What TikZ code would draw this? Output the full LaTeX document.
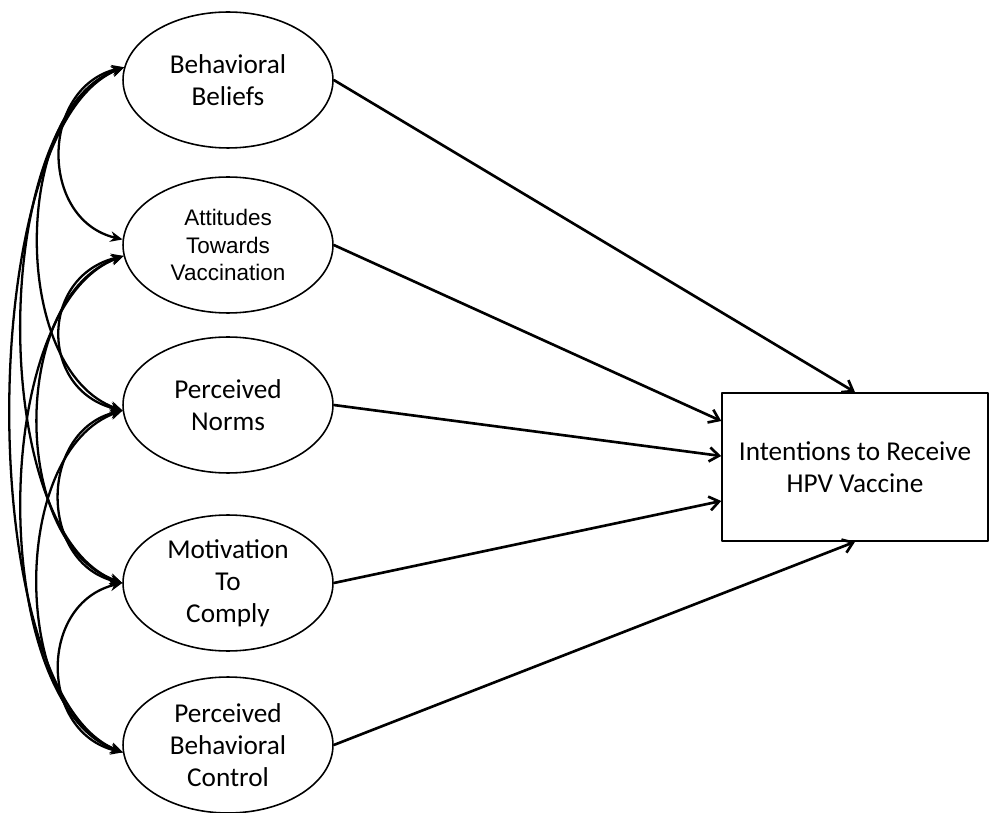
\documentclass[tikz,border=0pt]{standalone}
\usepackage{fontspec}
\setmainfont{Carlito}
\newfontfamily\arialfont{Liberation Sans}
\usetikzlibrary{arrows.meta,shapes,calc}
\newcommand \mycov[4]
{
\draw[cov] (#1) .. controls +(-#3,#4) and +(-#3,-#4) .. (#2);
}

\begin{document}
\begin{tikzpicture}[x=0.02cm, y=-0.02cm, line join=round,
  latent/.style={ellipse, draw, line width=0.9pt, minimum width=4.2cm, minimum height=2.72cm, inner sep=0pt, align=center, font=\fontsize{15.5}{18.2}\selectfont},
  outcome/.style={rectangle, draw, line width=0.9pt, minimum width=5.32cm, minimum height=2.96cm, inner sep=0pt, align=center, font=\fontsize{15.5}{18.2}\selectfont},
  effect/.style={-{Straight Barb[length=5.5pt,width=8pt]}, line width=1.5pt},
  cov/.style={{Stealth[length=7pt,width=6pt]}-{Stealth[length=7pt,width=6pt]}, line width=1.3pt}]
\useasboundingbox (0,0) rectangle (989,813);
% predictors
\node[latent] (bb)  at (228,80)  {Behavioral\\Beliefs};
\node[latent, font=\arialfont\fontsize{12.8}{15.5}\selectfont] (att) at (228,245) {Attitudes\\Towards\\Vaccination};
\node[latent] (pn)  at (228,405) {Perceived\\Norms};
\node[latent] (mtc) at (228,583) {Motivation\\To\\Comply};
\node[latent] (pbc) at (228,745) {Perceived\\Behavioral\\Control};
% outcome
\node[outcome] (iv) at (855,467) {Intentions to Receive\\HPV Vaccine};
\draw[effect] (bb.east)  -- (iv.north);
\draw[effect] (att.east) -- ($(iv.west)+(0,-46)$);
\draw[effect] (pn.east)  -- ($(iv.west)+(0,-11)$);
\draw[effect] (mtc.east) -- ($(iv.west)+(0,34)$);
\draw[effect] (pbc.east) -- (iv.south);
% covariances
\mycov{bb.173}{att.177}{84}{20}
\mycov{bb.173}{pn.183}{113}{40}
\mycov{bb.173}{mtc.180}{135}{50}
\mycov{bb.173}{pbc.184}{150}{60}
\mycov{att.186}{pn.183}{84}{20}
\mycov{att.186}{mtc.180}{113}{40}
\mycov{att.186}{pbc.184}{135}{50}
\mycov{pn.183}{mtc.180}{84}{20}
\mycov{pn.183}{pbc.184}{113}{40}
\mycov{mtc.180}{pbc.184}{84}{20}
\end{tikzpicture}
\end{document}
